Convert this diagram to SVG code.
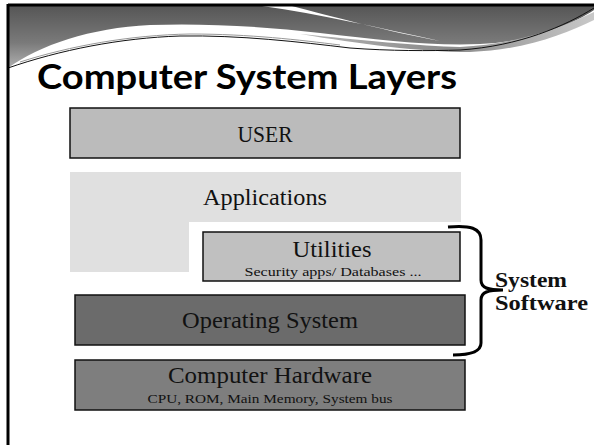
<svg xmlns="http://www.w3.org/2000/svg" width="594" height="445" viewBox="0 0 594 445">
<defs>
<linearGradient id="band" x1="0" y1="0" x2="0" y2="1">
<stop offset="0" stop-color="#555555"/>
<stop offset="0.6" stop-color="#7a7a7a"/>
<stop offset="1" stop-color="#b0b0b0"/>
</linearGradient>
<linearGradient id="wedge" x1="0" y1="0" x2="1" y2="0">
<stop offset="0" stop-color="#b5b5b5"/>
<stop offset="0.5" stop-color="#8a8a8a"/>
<stop offset="1" stop-color="#c8c8c8"/>
</linearGradient>
<style>
.lbl{font-family:"Liberation Serif","DejaVu Serif",serif;font-size:23px;fill:#111;text-anchor:middle}
.sub{font-family:"Liberation Serif","DejaVu Serif",serif;font-size:13px;fill:#111;text-anchor:middle}
.box{stroke:#111;stroke-width:1.5}
.side{font-family:"Liberation Serif","DejaVu Serif",serif;font-size:21px;font-weight:bold;fill:#111}
</style>
</defs>
<rect x="0" y="0" width="594" height="445" fill="#ffffff"/>
<g id="header">
<path d="M8,5 H594 V10 C570,26 530,42 480,44 C430,46 380,40 320,33 C260,26 200,23 150,25 C90,28 40,45 8,68 Z" fill="url(#band)"/>
<path d="M300,34 C360,40 420,46 460,47 C520,44 565,26 594,12 V20 C565,34 525,50 470,52 C420,52 360,44 300,34 Z" fill="url(#wedge)"/>
<path d="M262,6 C320,14 380,28 440,41 C390,32 330,16 292,6 Z" fill="#ffffff"/>
<path d="M8,68 C60,50 120,38 180,36 C240,35 300,42 350,48 C390,51 430,51 460,50 C520,46 565,26 594,8" fill="none" stroke="#111" stroke-width="1"/>
<path d="M20,62 C70,46 130,35 190,34 C250,34 300,40 340,45" fill="none" stroke="#999" stroke-width="1"/>
<line x1="8" y1="5" x2="594" y2="5" stroke="#000" stroke-width="3"/>
<line x1="8" y1="4" x2="8" y2="445" stroke="#000" stroke-width="3"/>
<text x="37" y="89" font-family="Lato,'Open Sans','Liberation Sans',sans-serif" font-weight="bold" font-size="34" fill="#000" textLength="420" lengthAdjust="spacingAndGlyphs">Computer System Layers</text>
</g>
<g id="user">
<rect class="box" x="70" y="108" width="390" height="50" fill="#bbbbbb"/>
<text class="lbl" x="265" y="142" textLength="55" lengthAdjust="spacingAndGlyphs">USER</text>
</g>
<g id="applications">
<path d="M70,172 H461 V222 H189 V272 H70 Z" fill="#e0e0e0"/>
<text class="lbl" x="265" y="205" textLength="124" lengthAdjust="spacingAndGlyphs">Applications</text>
</g>
<g id="utilities">
<rect class="box" x="203" y="232" width="257" height="49" fill="#c0c0c0"/>
<text class="lbl" x="332" y="257" textLength="79" lengthAdjust="spacingAndGlyphs">Utilities</text>
<text class="sub" x="333" y="276" textLength="177" lengthAdjust="spacingAndGlyphs">Security apps/ Databases ...</text>
</g>
<g id="os">
<rect class="box" x="75" y="295" width="390" height="50" fill="#6b6b6b"/>
<text class="lbl" x="270" y="328" textLength="176" lengthAdjust="spacingAndGlyphs">Operating System</text>
</g>
<g id="hardware">
<rect class="box" x="75" y="360" width="390" height="50" fill="#7e7e7e"/>
<text class="lbl" x="270" y="383" textLength="204" lengthAdjust="spacingAndGlyphs">Computer Hardware</text>
<text class="sub" x="270" y="403" textLength="245" lengthAdjust="spacingAndGlyphs">CPU, ROM, Main Memory, System bus</text>
</g>
<g id="connectors">
<path d="M448,227 C470,225 481,228 481,240 V280 C481,288 488,290 503,290 C488,290 481,292 481,300 V343 C481,352 470,355 453,355" fill="none" stroke="#000" stroke-width="3"/>
</g>
<g id="system-software">
<text class="side" x="495" y="287" textLength="72" lengthAdjust="spacingAndGlyphs">System</text>
<text class="side" x="495" y="310" textLength="93" lengthAdjust="spacingAndGlyphs">Software</text>
</g>
</svg>
